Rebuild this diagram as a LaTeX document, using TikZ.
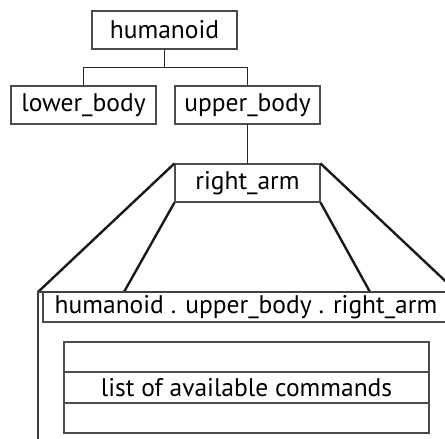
\documentclass[tikz,border=0pt]{standalone}
\usepackage{fontspec}
\setmainfont{PT Sans}
\begin{document}
\begin{tikzpicture}[x=1pt,y=-1pt,
  treebox/.style={draw=black!70,line width=1.1pt,minimum width=145pt,minimum height=38pt,
    inner sep=0pt,font=\fontsize{25.5}{28}\selectfont},
  tree/.style={draw=black!85,line width=1pt},
  lens/.style={draw=black!90,line width=2.4pt},
  frame/.style={draw=black!75,line width=2pt},
  thin/.style={draw=black!70,line width=1.1pt},
  label/.style={inner sep=0pt,font=\fontsize{25.5}{28}\selectfont}]
\useasboundingbox (0,0) rectangle (445,439);
\clip (0,0) rectangle (445,439);
\fill[white] (0,0) rectangle (445,439);

% object tree
\node[treebox] (hum) at (164.5,30) {humanoid};
\node[treebox] (low) at (83.5,105) {lower\_body};
\node[treebox] (up) at (247.5,105) {upper\_body};
\node[treebox] (arm) at (247.5,183) {right\_arm};
\draw[tree] (hum.south) -- ++(0,18) coordinate (fork);
\draw[tree] (low.north) |- (fork) -| (up.north);
\draw[tree] (up.south) -- (arm.north);

% zoom window corners
\coordinate (wtl) at (38,292);
\coordinate (wtr) at (457,292);
\coordinate (wil) at (124,292);
\coordinate (wir) at (370,292);
\draw[lens] (arm.north west) -- (wtl);
\draw[lens] (arm.north east) -- (wtr);
\draw[lens] (arm.south west) -- (wil);
\draw[lens] (arm.south east) -- (wir);

% window frame
\draw[frame] (38,445) -- (wtl) -- (460,292);
\draw[thin] (460,322) -- (43,322) -- (43,292);
\node[label] (title) at (246,307) {humanoid . upper\_body . right\_arm};

% command list
\draw[thin] (64,342) rectangle (429,433);
\draw[thin] (64,372) -- (429,372);
\draw[thin] (64,403) -- (429,403);
\node[label] (cmds) at (246.5,387.5) {list of available commands};
\end{tikzpicture}
\end{document}
